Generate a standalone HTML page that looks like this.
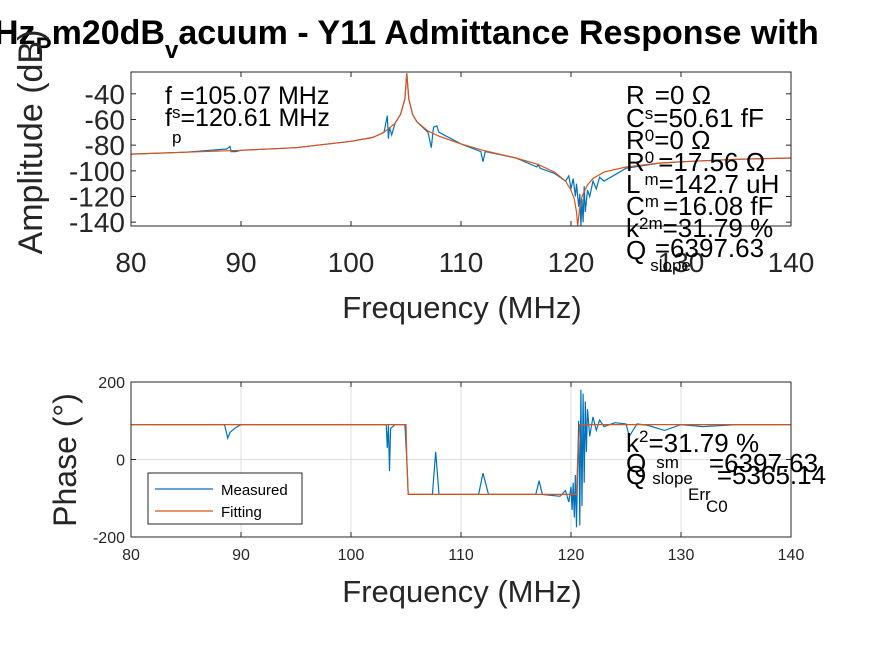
<!DOCTYPE html>
<html><head><meta charset="utf-8"><style>
html,body{margin:0;padding:0;background:#fff;}
svg{display:block;font-family:"Liberation Sans",Arial,sans-serif;}
</style></head><body>
<svg id="fig" width="875" height="656" viewBox="0 0 875 656">
<rect width="875" height="656" fill="#fff"/>
<text x="-6" y="44" font-size="34" font-weight="bold">Hz<tspan font-size="24" dy="10">P</tspan><tspan dy="-10">m20dB</tspan><tspan font-size="24" dy="14">v</tspan><tspan dy="-14">acuum - Y11 Admittance Response with</tspan></text>

<g id="top"></g>
<g id="bot"></g>

<text transform="translate(42,142) rotate(-90)" text-anchor="middle" font-size="34" fill="#262626">Amplitude (dB)</text>
<text x="462" y="318" text-anchor="middle" font-size="31" fill="#262626">Frequency (MHz)</text>
<text transform="translate(76,460) rotate(-90)" text-anchor="middle" font-size="32" fill="#262626">Phase (°)</text>
<text x="462" y="602" text-anchor="middle" font-size="31" fill="#262626">Frequency (MHz)</text>

<g font-size="25" fill="#000">
<text x="165" y="104">f<tspan dx="8">=105.07 MHz</tspan></text>
<text x="165" y="126">f<tspan font-size="17" dy="-8">s</tspan><tspan dy="8">=120.61 MHz</tspan></text>
<text x="172" y="143" font-size="17">p</text>
</g>
<g font-size="26" fill="#000">
<text x="626" y="104">R<tspan dx="10">=0 Ω</tspan></text>
<text x="626" y="127">C<tspan font-size="17" dy="-8">s</tspan><tspan dy="8">=50.61 fF</tspan></text>
<text x="626" y="149">R<tspan font-size="17" dy="-8">0</tspan><tspan dy="8">=0 Ω</tspan></text>
<text x="626" y="171">R<tspan font-size="17" dy="-8">0</tspan><tspan dy="8" dx="4">=17.56 Ω</tspan></text>
<text x="626" y="193">L<tspan font-size="17" dy="-8" dx="4">m</tspan><tspan dy="8">=142.7 uH</tspan></text>
<text x="626" y="215">C<tspan font-size="17" dy="-8">m</tspan><tspan dy="8" dx="4">=16.08 fF</tspan></text>
<text x="626" y="237">k<tspan font-size="17" dy="-8">2m</tspan><tspan dy="8">=31.79 %</tspan></text>
<text x="626" y="259">Q<tspan font-size="17" dy="12" dx="4">slope</tspan><tspan dy="-14" dx="-36">=6397.63</tspan></text>
</g>
<g font-size="26" fill="#000">
<text x="626" y="452">k<tspan font-size="17" dy="-10">2</tspan><tspan dy="10">=31.79 %</tspan></text>
<text x="626" y="472">Q<tspan font-size="17" dx="10" dy="-4">sm</tspan><tspan dy="4" dx="30">=6397.63</tspan></text>
<text x="626" y="484">Q<tspan font-size="17" dx="6">slope</tspan><tspan dx="24">=5365.14</tspan></text>
<text x="688" y="500" font-size="17">Err</text>
<text x="706" y="512" font-size="17">C0</text>
</g>

<g>
<rect x="148" y="473" width="154" height="51" fill="#fff" stroke="#262626" stroke-width="1"/>
<line x1="155" y1="489" x2="213" y2="489" stroke="#0072BD" stroke-width="1.2"/>
<text x="221" y="495" font-size="15" fill="#000">Measured</text>
<line x1="155" y1="511" x2="213" y2="511" stroke="#D95319" stroke-width="1.2"/>
<text x="221" y="517" font-size="15" fill="#000">Fitting</text>
</g>
</svg>
<script>
const xTicks=[80,90,100,110,120,130,140];
const ampTicks=[-40,-60,-80,-100,-120,-140];
const phTicks=[-200,0,200];
// amplitude fit (freq MHz, dB)
const ampFitF=[80,85,90,95,100,102,103,104,104.5,104.9,105.07,105.25,105.6,106,107,108,110,112,115,117,118.5,119.5,120,120.3,120.5,120.61,120.8,121,121.5,122,123,125,128,130,135,140];
const ampFitV=[-87,-85.5,-84,-82,-77,-74,-70,-63,-56,-44,-24,-44,-56,-62,-69,-73,-79,-84,-90,-95,-101,-108,-115,-122,-132,-143,-128,-120,-111,-106,-101,-97,-94,-93,-91,-90];
// measured amplitude
const ampMeasF=[80,85,88.7,89,89.1,89.5,90,95,100,102,103,103.3,103.4,103.5,103.7,104,104.5,104.9,105.07,105.25,105.6,106,107,107.3,107.5,107.8,108,110,111.8,112,112.2,115,116.9,117,117.2,118.5,119.5,119.8,120,120.2,120.4,120.5,120.7,120.8,120.9,121,121.1,121.2,121.3,121.5,121.7,122,122.3,122.6,123,125,128,130,135,140];
const ampMeasV=[-87,-85.5,-83,-81,-85,-85,-84,-82,-77,-74,-70,-57,-75,-66,-72,-63,-56,-44,-24,-44,-56,-62,-70,-82,-66,-65,-70,-79,-85,-93,-85,-90,-97,-95,-98,-102,-108,-104,-114,-106,-120,-110,-128,-118,-143,-122,-140,-112,-132,-115,-120,-108,-114,-105,-108,-98,-94,-93,-91,-90];
// phase fit
const phFitF=[80,105,105.07,105.2,120.5,120.61,120.8,140];
const phFitV=[90,90,0,-90,-90,0,90,90];
// measured phase
const phMeasF=[80,88.5,88.8,89,89.5,90,100,103.2,103.3,103.4,103.5,103.6,104,104.9,105.07,105.2,107.4,107.7,108,111.6,112,112.5,116.8,117.1,117.4,118,119,119.5,119.8,120,120.1,120.2,120.3,120.4,120.5,120.6,120.7,120.8,120.9,121,121.1,121.2,121.3,121.4,121.5,121.7,122,122.3,122.6,123,124,125,125.3,126,127,128.5,130,132,135,140];
const phMeasV=[90,90,55,70,82,90,90,90,30,88,-30,80,90,90,0,-90,-90,20,-90,-90,-35,-90,-90,-55,-90,-92,-95,-80,-110,-70,-130,-60,-150,-40,-175,-20,100,-170,180,-120,170,-60,150,20,130,60,110,75,102,85,95,92,60,92,88,75,90,85,90,90];

const NS='http://www.w3.org/2000/svg';
const L=131,R=791;
const sx=f=>L+(f-80)/60*(R-L);
function el(tag,attrs,parent){const e=document.createElementNS(NS,tag);for(const k in attrs)e.setAttribute(k,attrs[k]);parent.appendChild(e);return e;}
function axes(g,top,bot,ymin,ymax,yTicks,fontT,grid,series){
  const sy=v=>bot-(v-ymin)/(ymax-ymin)*(bot-top);
  el('rect',{x:L,y:top,width:R-L,height:bot-top,fill:'#fff'},g);
  if(grid){
    xTicks.forEach(t=>{const gl=el('line',{x1:sx(t),x2:sx(t),y1:top,y2:bot,stroke:'#dfdfdf','stroke-width':1},g);
      
      });
    yTicks.forEach(t=>{const gl=el('line',{x1:L,x2:R,y1:sy(t),y2:sy(t),stroke:'#dfdfdf','stroke-width':1},g);
      
      });
  }
  series.forEach(s=>{
    const d=s.f.map((f,i)=>(i?'L':'M')+sx(f).toFixed(1)+','+sy(Math.max(ymin,Math.min(ymax,s.v[i]))).toFixed(1)).join('');
    const p=el('path',{d:d,fill:'none',stroke:s.c,'stroke-width':1.2},g);
    
    
  });
  el('rect',{x:L,y:top,width:R-L,height:bot-top,fill:'none',stroke:'#262626','stroke-width':1},g);
  xTicks.forEach(t=>{
    el('line',{x1:sx(t),x2:sx(t),y1:bot,y2:bot-5,stroke:'#262626'},g);
    el('line',{x1:sx(t),x2:sx(t),y1:top,y2:top+5,stroke:'#262626'},g);
    const tx=el('text',{x:sx(t),y:bot+fontT.xdy,'text-anchor':'middle','font-size':fontT.size,fill:'#262626'},g);
    tx.textContent=t;
    
    
  });
  yTicks.forEach(t=>{
    el('line',{x1:L,x2:L+5,y1:sy(t),y2:sy(t),stroke:'#262626'},g);
    el('line',{x1:R,x2:R-5,y1:sy(t),y2:sy(t),stroke:'#262626'},g);
    const tx=el('text',{x:L-6,y:sy(t)+fontT.size*0.36,'text-anchor':'end','font-size':fontT.size,fill:'#262626'},g);
    tx.textContent=t;
    
    
  });
}
axes(document.getElementById('top'),72,226,-143,-23,ampTicks,{size:28,xdy:46},false,[
  {f:ampMeasF,v:ampMeasV,c:'#0072BD',n:'amplitude-measured-line'},
  {f:ampFitF,v:ampFitV,c:'#D95319',n:'amplitude-fit-line'}]);
axes(document.getElementById('bot'),382,537,-200,200,phTicks,{size:16,xdy:23},true,[
  {f:phMeasF,v:phMeasV,c:'#0072BD',n:'phase-measured-line'},
  {f:phFitF,v:phFitV,c:'#D95319',n:'phase-fit-line'}]);
</script>
</body></html>
